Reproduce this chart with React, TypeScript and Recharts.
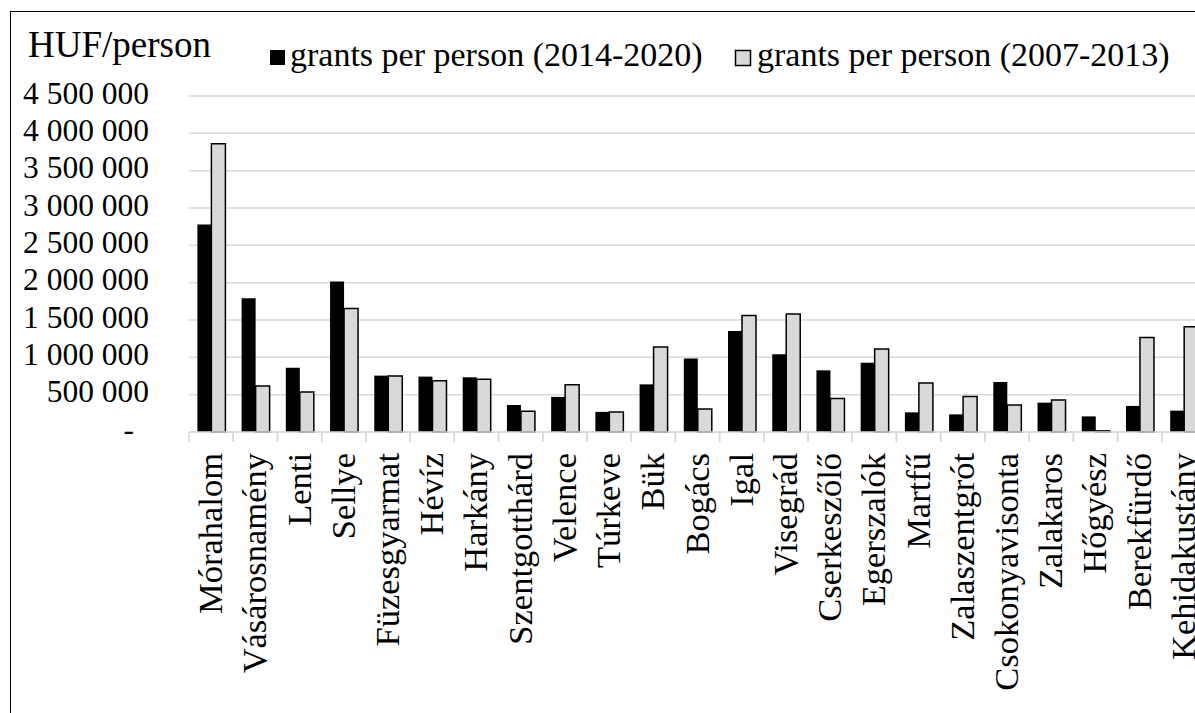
import React from "react";
import { BarChart, Bar, XAxis, YAxis, CartesianGrid, Legend } from "recharts";

const categories = [
  "Mórahalom", "Vásárosnamény", "Lenti", "Sellye", "Füzesgyarmat", "Hévíz", "Harkány",
  "Szentgotthárd", "Velence", "Túrkeve", "Bük", "Bogács", "Igal", "Visegrád",
  "Cserkeszőlő", "Egerszalók", "Martfű", "Zalaszentgrót", "Csokonyavisonta",
  "Zalakaros", "Hőgyész", "Berekfürdő", "Kehidakustány",
];

const grants2014 = [
  2780000, 1790000, 862000, 2015000, 755000, 742000, 733000, 362000, 470000, 270000,
  638000, 983000, 1354000, 1040000, 826000, 929000, 263000, 236000, 670000, 393000,
  209000, 349000, 286000,
];

const grants2007 = [
  3860000, 617000, 536000, 1653000, 750000, 688000, 706000, 277000, 634000, 268000,
  1140000, 308000, 1559000, 1580000, 450000, 1113000, 657000, 477000, 362000, 429000,
  15000, 1264000, 1410000,
];

const yTicks = [0, 500000, 1000000, 1500000, 2000000, 2500000, 3000000, 3500000, 4000000, 4500000];

const seriesNames = ["grants per person (2014-2020)", "grants per person (2007-2013)"];
const unitLabel = "HUF/person";

const data = categories.map((name, i) => ({
  name,
  g2014: grants2014[i],
  g2007: grants2007[i],
}));

const FONT = "'Liberation Serif', 'Times New Roman', serif";

const fmt = (v: number) =>
  v === 0 ? "-" : String(v).replace(/\B(?=(\d{3})+(?!\d))/g, " ");

const YTick = (props: any) => {
  const { x, y, payload } = props;
  const v = payload.value as number;
  return (
    <text
      x={v === 0 ? x - 15 : x}
      y={y + 7.5}
      textAnchor="end"
      fontFamily={FONT}
      fontSize={31.5}
      fill="#000"
    >
      {fmt(v)}
    </text>
  );
};

const XTick = (props: any) => {
  const { x, y, payload } = props;
  const half = payload && payload.offset ? payload.offset : 22.1;
  const tx = x + 11;
  const ty = y + 21;
  return (
    <g>
      <line x1={x - half} x2={x - half} y1={y} y2={y + 10} stroke="#d9d9d9" strokeWidth={1.5} />
      <line x1={x + half} x2={x + half} y1={y} y2={y + 10} stroke="#d9d9d9" strokeWidth={1.5} />
      <text
        x={tx}
        y={ty}
        transform={`rotate(-90, ${tx}, ${ty})`}
        textAnchor="end"
        fontFamily={FONT}
        fontSize={34.5}
        fill="#000"
      >
        {payload.value}
      </text>
    </g>
  );
};

const LegendContent = () => (
  <svg width={1195} height={90} style={{ display: "block" }}>
    <text x={28} y={57} fontFamily={FONT} fontSize={37} fill="#000">
      {unitLabel}
    </text>
    <rect x={270} y={50} width={15} height={15} fill="#000" />
    <text x={290} y={66} fontFamily={FONT} fontSize={34} fill="#000">
      {seriesNames[0]}
    </text>
    <rect x={735.5} y={50.5} width={15} height={15} fill="#d9d9d9" stroke="#000" strokeWidth={1.5} />
    <text x={757} y={66} fontFamily={FONT} fontSize={34} fill="#000">
      {seriesNames[1]}
    </text>
  </svg>
);

export default function App() {
  return (
    <div
      style={{
        position: "absolute",
        left: 0,
        top: 0,
        width: 1195,
        height: 713,
        overflow: "hidden",
        background: "#fff",
      }}
    >
      <div
        style={{
          position: "absolute",
          left: 10,
          top: 11,
          width: 1400,
          height: 900,
          border: "1.5px solid #000",
          boxSizing: "border-box",
        }}
      />
      <div style={{ position: "absolute", left: 0, top: 0 }}>
        <BarChart
          width={1210}
          height={713}
          data={data}
          margin={{ top: 96, right: 4, left: 0, bottom: 0 }}
          barCategoryGap="19%"
          barGap={0}
        >
          <CartesianGrid vertical={false} stroke="#d9d9d9" strokeWidth={1.5} />
          <XAxis
            dataKey="name"
            interval={0}
            height={281}
            tickLine={false}
            tickSize={0}
            tickMargin={0}
            axisLine={{ stroke: "#d9d9d9", strokeWidth: 1.5 }}
            tick={<XTick />}
          />
          <YAxis
            width={189}
            domain={[0, 4500000]}
            ticks={yTicks}
            interval={0}
            axisLine={false}
            tickLine={false}
            tickSize={0}
            tickMargin={40}
            tick={<YTick />}
          />
          <Legend
            layout="horizontal"
            verticalAlign="middle"
            align="center"
            wrapperStyle={{ top: 0, left: 0, width: 1195, height: 90 }}
            content={<LegendContent />}
          />
          <Bar dataKey="g2014" name={seriesNames[0]} fill="#000" isAnimationActive={false} />
          <Bar
            dataKey="g2007"
            name={seriesNames[1]}
            fill="#d9d9d9"
            stroke="#000"
            strokeWidth={1.5}
            isAnimationActive={false}
          />
        </BarChart>
      </div>
    </div>
  );
}
